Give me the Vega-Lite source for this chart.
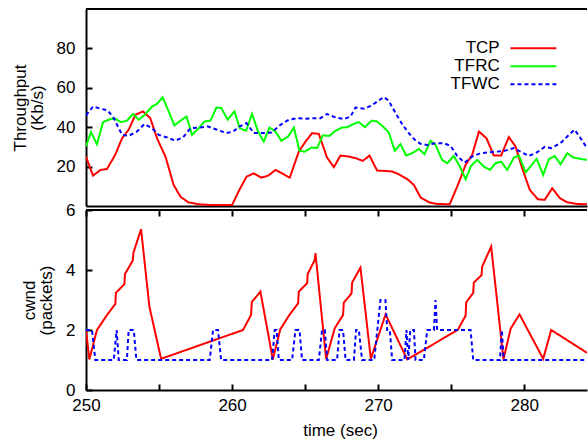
{
  "$schema": "https://vega.github.io/schema/vega-lite/v6.json",
  "padding": {"left": 11, "top": 8, "right": 0, "bottom": 4},
  "config": {
    "font": "Liberation Sans",
    "view": {"stroke": null},
    "axis": {"grid": false, "domainColor": "black", "domainWidth": 2, "tickColor": "black", "tickWidth": 2, "tickSize": -6, "labelFontSize": 17, "titleFontSize": 17, "titleFontWeight": "normal", "labelColor": "black", "titleColor": "black", "labelFont": "Liberation Sans", "titleFont": "Liberation Sans", "titleLineHeight": 17, "labelFlush": false}
  },
  "datasets": {
    "thr": [
      {"t":250.0,"v":25.1,"s":"TCP"},{"t":250.48,"v":15.4,"s":"TCP"},{"t":250.99,"v":18.3,"s":"TCP"},{"t":251.44,"v":18.8,"s":"TCP"},{"t":252.0,"v":26,"s":"TCP"},{"t":252.47,"v":34.4,"s":"TCP"},{"t":252.92,"v":38.7,"s":"TCP"},{"t":253.38,"v":46.3,"s":"TCP"},{"t":253.9,"v":48,"s":"TCP"},{"t":254.4,"v":44.6,"s":"TCP"},{"t":254.86,"v":34.4,"s":"TCP"},{"t":255.44,"v":25.1,"s":"TCP"},{"t":256.0,"v":10.7,"s":"TCP"},{"t":256.47,"v":4.7,"s":"TCP"},{"t":257.0,"v":1.9,"s":"TCP"},{"t":257.7,"v":0.9,"s":"TCP"},{"t":258.5,"v":0.5,"s":"TCP"},{"t":260.0,"v":0.5,"s":"TCP"},{"t":260.46,"v":7.6,"s":"TCP"},{"t":260.99,"v":14.9,"s":"TCP"},{"t":261.49,"v":16.6,"s":"TCP"},{"t":262.01,"v":14.4,"s":"TCP"},{"t":262.47,"v":15.4,"s":"TCP"},{"t":262.97,"v":18.3,"s":"TCP"},{"t":263.42,"v":16.6,"s":"TCP"},{"t":263.95,"v":14.4,"s":"TCP"},{"t":264.57,"v":27.6,"s":"TCP"},{"t":265.03,"v":32.7,"s":"TCP"},{"t":265.48,"v":37,"s":"TCP"},{"t":265.94,"v":36.6,"s":"TCP"},{"t":266.5,"v":24.6,"s":"TCP"},{"t":266.97,"v":19.7,"s":"TCP"},{"t":267.42,"v":25.6,"s":"TCP"},{"t":268.0,"v":25.1,"s":"TCP"},{"t":268.45,"v":24.3,"s":"TCP"},{"t":268.95,"v":22.9,"s":"TCP"},{"t":269.41,"v":25.6,"s":"TCP"},{"t":269.93,"v":18,"s":"TCP"},{"t":270.46,"v":17.8,"s":"TCP"},{"t":270.96,"v":17.5,"s":"TCP"},{"t":271.42,"v":16.1,"s":"TCP"},{"t":271.99,"v":13.7,"s":"TCP"},{"t":272.45,"v":10.7,"s":"TCP"},{"t":272.9,"v":4.4,"s":"TCP"},{"t":273.47,"v":1.9,"s":"TCP"},{"t":274.04,"v":1.0,"s":"TCP"},{"t":274.9,"v":0.9,"s":"TCP"},{"t":275.41,"v":9.8,"s":"TCP"},{"t":275.99,"v":20.9,"s":"TCP"},{"t":276.44,"v":26,"s":"TCP"},{"t":276.9,"v":37.8,"s":"TCP"},{"t":277.42,"v":34.4,"s":"TCP"},{"t":277.92,"v":25.6,"s":"TCP"},{"t":278.42,"v":25.6,"s":"TCP"},{"t":278.95,"v":35,"s":"TCP"},{"t":279.41,"v":30.2,"s":"TCP"},{"t":279.86,"v":19.2,"s":"TCP"},{"t":280.39,"v":8.1,"s":"TCP"},{"t":280.94,"v":3.4,"s":"TCP"},{"t":281.4,"v":3.1,"s":"TCP"},{"t":281.92,"v":9,"s":"TCP"},{"t":282.45,"v":3.9,"s":"TCP"},{"t":282.95,"v":1.9,"s":"TCP"},{"t":283.63,"v":1.0,"s":"TCP"},{"t":284.3,"v":0.9,"s":"TCP"},
      {"t":250.0,"v":30.2,"s":"TFRC"},{"t":250.34,"v":37.5,"s":"TFRC"},{"t":250.75,"v":31.4,"s":"TFRC"},{"t":251.17,"v":42.6,"s":"TFRC"},{"t":251.67,"v":44.1,"s":"TFRC"},{"t":252.0,"v":44.3,"s":"TFRC"},{"t":252.4,"v":42.6,"s":"TFRC"},{"t":252.8,"v":43.3,"s":"TFRC"},{"t":253.22,"v":46.7,"s":"TFRC"},{"t":253.61,"v":43.8,"s":"TFRC"},{"t":254.02,"v":46.3,"s":"TFRC"},{"t":254.52,"v":50.5,"s":"TFRC"},{"t":254.86,"v":51.9,"s":"TFRC"},{"t":255.25,"v":55.1,"s":"TFRC"},{"t":255.66,"v":48,"s":"TFRC"},{"t":256.05,"v":40.9,"s":"TFRC"},{"t":256.47,"v":43.3,"s":"TFRC"},{"t":256.88,"v":45.4,"s":"TFRC"},{"t":257.26,"v":36.1,"s":"TFRC"},{"t":257.72,"v":39.5,"s":"TFRC"},{"t":258.11,"v":42.9,"s":"TFRC"},{"t":258.52,"v":43.3,"s":"TFRC"},{"t":258.93,"v":50,"s":"TFRC"},{"t":259.27,"v":49.7,"s":"TFRC"},{"t":259.7,"v":43.8,"s":"TFRC"},{"t":260.16,"v":48,"s":"TFRC"},{"t":260.53,"v":39.5,"s":"TFRC"},{"t":260.96,"v":38.2,"s":"TFRC"},{"t":261.37,"v":46.7,"s":"TFRC"},{"t":261.78,"v":37.8,"s":"TFRC"},{"t":262.17,"v":32.7,"s":"TFRC"},{"t":262.56,"v":39.8,"s":"TFRC"},{"t":262.97,"v":37.8,"s":"TFRC"},{"t":263.38,"v":33.1,"s":"TFRC"},{"t":263.84,"v":35.3,"s":"TFRC"},{"t":264.23,"v":39.8,"s":"TFRC"},{"t":264.62,"v":28,"s":"TFRC"},{"t":264.98,"v":27.6,"s":"TFRC"},{"t":265.44,"v":29.7,"s":"TFRC"},{"t":265.82,"v":29.4,"s":"TFRC"},{"t":266.21,"v":35.8,"s":"TFRC"},{"t":266.67,"v":35.6,"s":"TFRC"},{"t":267.08,"v":38.2,"s":"TFRC"},{"t":267.53,"v":39.8,"s":"TFRC"},{"t":267.88,"v":40,"s":"TFRC"},{"t":268.34,"v":41.7,"s":"TFRC"},{"t":268.68,"v":42.6,"s":"TFRC"},{"t":269.09,"v":40,"s":"TFRC"},{"t":269.55,"v":43.3,"s":"TFRC"},{"t":269.93,"v":42.9,"s":"TFRC"},{"t":270.32,"v":40.4,"s":"TFRC"},{"t":270.73,"v":37.3,"s":"TFRC"},{"t":271.14,"v":28,"s":"TFRC"},{"t":271.53,"v":31.4,"s":"TFRC"},{"t":271.92,"v":25.6,"s":"TFRC"},{"t":272.33,"v":26.8,"s":"TFRC"},{"t":272.79,"v":29,"s":"TFRC"},{"t":273.18,"v":26.3,"s":"TFRC"},{"t":273.59,"v":33.1,"s":"TFRC"},{"t":273.93,"v":31,"s":"TFRC"},{"t":274.38,"v":23.4,"s":"TFRC"},{"t":274.73,"v":21.7,"s":"TFRC"},{"t":275.18,"v":25.4,"s":"TFRC"},{"t":275.6,"v":20,"s":"TFRC"},{"t":275.99,"v":13.6,"s":"TFRC"},{"t":276.37,"v":20.4,"s":"TFRC"},{"t":276.78,"v":23.4,"s":"TFRC"},{"t":277.24,"v":20,"s":"TFRC"},{"t":277.65,"v":18.3,"s":"TFRC"},{"t":278.04,"v":21.7,"s":"TFRC"},{"t":278.42,"v":22.5,"s":"TFRC"},{"t":278.84,"v":18.3,"s":"TFRC"},{"t":279.29,"v":24.6,"s":"TFRC"},{"t":279.64,"v":25.6,"s":"TFRC"},{"t":280.1,"v":17.1,"s":"TFRC"},{"t":280.48,"v":20.5,"s":"TFRC"},{"t":280.85,"v":23.9,"s":"TFRC"},{"t":281.3,"v":15.8,"s":"TFRC"},{"t":281.69,"v":23.8,"s":"TFRC"},{"t":282.08,"v":25.4,"s":"TFRC"},{"t":282.49,"v":21.2,"s":"TFRC"},{"t":282.95,"v":26.8,"s":"TFRC"},{"t":283.36,"v":24.6,"s":"TFRC"},{"t":283.86,"v":23.9,"s":"TFRC"},{"t":284.3,"v":23.4,"s":"TFRC"},
      {"t":250.0,"v":46,"s":"TFWC"},{"t":250.48,"v":50.5,"s":"TFWC"},{"t":250.99,"v":49.4,"s":"TFWC"},{"t":251.49,"v":48.5,"s":"TFWC"},{"t":251.9,"v":44.6,"s":"TFWC"},{"t":252.47,"v":36.1,"s":"TFWC"},{"t":252.92,"v":35.6,"s":"TFWC"},{"t":253.49,"v":37.8,"s":"TFWC"},{"t":254.0,"v":41.6,"s":"TFWC"},{"t":254.52,"v":39.5,"s":"TFWC"},{"t":254.98,"v":36.1,"s":"TFWC"},{"t":255.55,"v":34.8,"s":"TFWC"},{"t":256.12,"v":33.2,"s":"TFWC"},{"t":256.64,"v":34.8,"s":"TFWC"},{"t":257.15,"v":39.5,"s":"TFWC"},{"t":257.72,"v":39.8,"s":"TFWC"},{"t":258.34,"v":40.4,"s":"TFWC"},{"t":258.97,"v":38.7,"s":"TFWC"},{"t":259.62,"v":37,"s":"TFWC"},{"t":260.07,"v":37.8,"s":"TFWC"},{"t":260.53,"v":40.4,"s":"TFWC"},{"t":260.99,"v":42.1,"s":"TFWC"},{"t":261.49,"v":37,"s":"TFWC"},{"t":262.17,"v":37,"s":"TFWC"},{"t":262.7,"v":37.3,"s":"TFWC"},{"t":263.32,"v":41.2,"s":"TFWC"},{"t":263.88,"v":43.8,"s":"TFWC"},{"t":264.45,"v":44.6,"s":"TFWC"},{"t":265.03,"v":44.3,"s":"TFWC"},{"t":265.6,"v":44.6,"s":"TFWC"},{"t":266.05,"v":44.6,"s":"TFWC"},{"t":266.5,"v":46.7,"s":"TFWC"},{"t":267.03,"v":45.1,"s":"TFWC"},{"t":267.65,"v":44.1,"s":"TFWC"},{"t":268.11,"v":45.4,"s":"TFWC"},{"t":268.45,"v":50,"s":"TFWC"},{"t":269.02,"v":49.4,"s":"TFWC"},{"t":269.55,"v":51,"s":"TFWC"},{"t":270.0,"v":53.4,"s":"TFWC"},{"t":270.39,"v":55.3,"s":"TFWC"},{"t":270.73,"v":53.4,"s":"TFWC"},{"t":271.19,"v":47.2,"s":"TFWC"},{"t":271.64,"v":41.6,"s":"TFWC"},{"t":272.1,"v":37,"s":"TFWC"},{"t":272.51,"v":33.6,"s":"TFWC"},{"t":272.9,"v":31.6,"s":"TFWC"},{"t":273.36,"v":31,"s":"TFWC"},{"t":273.93,"v":31.9,"s":"TFWC"},{"t":274.5,"v":31.9,"s":"TFWC"},{"t":274.96,"v":30.5,"s":"TFWC"},{"t":275.41,"v":25.4,"s":"TFWC"},{"t":275.92,"v":22,"s":"TFWC"},{"t":276.44,"v":25.1,"s":"TFWC"},{"t":277.01,"v":26.8,"s":"TFWC"},{"t":277.58,"v":27.3,"s":"TFWC"},{"t":278.15,"v":27.6,"s":"TFWC"},{"t":278.66,"v":28,"s":"TFWC"},{"t":279.29,"v":29.4,"s":"TFWC"},{"t":279.75,"v":27.6,"s":"TFWC"},{"t":280.32,"v":25.4,"s":"TFWC"},{"t":280.89,"v":27.3,"s":"TFWC"},{"t":281.4,"v":30,"s":"TFWC"},{"t":281.85,"v":29.4,"s":"TFWC"},{"t":282.49,"v":31.9,"s":"TFWC"},{"t":282.95,"v":35.3,"s":"TFWC"},{"t":283.45,"v":38.7,"s":"TFWC"},{"t":283.86,"v":34.4,"s":"TFWC"},{"t":284.3,"v":29.4,"s":"TFWC"}
    ],
    "cwnd": [
      {"t":250.0,"c":2.0,"s":"TCP"},{"t":250.23,"c":1.02,"s":"TCP"},{"t":250.75,"c":2.0,"s":"TCP"},{"t":251.44,"c":2.5,"s":"TCP"},{"t":252.01,"c":2.87,"s":"TCP"},{"t":252.05,"c":3.24,"s":"TCP"},{"t":252.63,"c":3.53,"s":"TCP"},{"t":252.67,"c":3.87,"s":"TCP"},{"t":253.2,"c":4.31,"s":"TCP"},{"t":253.25,"c":4.58,"s":"TCP"},{"t":253.77,"c":5.36,"s":"TCP"},{"t":254.34,"c":2.78,"s":"TCP"},{"t":255.14,"c":1.04,"s":"TCP"},{"t":260.75,"c":2.0,"s":"TCP"},{"t":261.3,"c":2.5,"s":"TCP"},{"t":261.35,"c":2.93,"s":"TCP"},{"t":261.94,"c":3.28,"s":"TCP"},{"t":262.79,"c":1.02,"s":"TCP"},{"t":263.3,"c":2.02,"s":"TCP"},{"t":263.95,"c":2.52,"s":"TCP"},{"t":264.52,"c":2.89,"s":"TCP"},{"t":264.57,"c":3.28,"s":"TCP"},{"t":265.14,"c":3.56,"s":"TCP"},{"t":265.18,"c":3.87,"s":"TCP"},{"t":265.66,"c":4.33,"s":"TCP"},{"t":265.71,"c":4.56,"s":"TCP"},{"t":266.44,"c":1.03,"s":"TCP"},{"t":267.03,"c":2.06,"s":"TCP"},{"t":267.6,"c":2.5,"s":"TCP"},{"t":267.65,"c":2.91,"s":"TCP"},{"t":268.18,"c":3.22,"s":"TCP"},{"t":268.22,"c":3.58,"s":"TCP"},{"t":268.79,"c":4.08,"s":"TCP"},{"t":269.5,"c":1.04,"s":"TCP"},{"t":270.51,"c":2.52,"s":"TCP"},{"t":271.99,"c":1.02,"s":"TCP"},{"t":275.45,"c":2.0,"s":"TCP"},{"t":275.99,"c":2.48,"s":"TCP"},{"t":276.03,"c":2.92,"s":"TCP"},{"t":276.51,"c":3.24,"s":"TCP"},{"t":276.55,"c":3.58,"s":"TCP"},{"t":277.08,"c":3.83,"s":"TCP"},{"t":277.12,"c":4.11,"s":"TCP"},{"t":277.74,"c":4.78,"s":"TCP"},{"t":278.58,"c":1.02,"s":"TCP"},{"t":279.07,"c":2.04,"s":"TCP"},{"t":279.68,"c":2.52,"s":"TCP"},{"t":281.3,"c":1.04,"s":"TCP"},{"t":281.85,"c":2.0,"s":"TCP"},{"t":284.3,"c":1.24,"s":"TCP"},
      {"t":250.0,"c":2,"s":"TFWC"},{"t":250.41,"c":2,"s":"TFWC"},{"t":250.64,"c":1,"s":"TFWC"},{"t":251.9,"c":1,"s":"TFWC"},{"t":252.1,"c":2,"s":"TFWC"},{"t":252.24,"c":1,"s":"TFWC"},{"t":252.8,"c":1,"s":"TFWC"},{"t":252.92,"c":2,"s":"TFWC"},{"t":253.27,"c":2,"s":"TFWC"},{"t":253.45,"c":1,"s":"TFWC"},{"t":258.47,"c":1,"s":"TFWC"},{"t":258.7,"c":2,"s":"TFWC"},{"t":259.04,"c":2,"s":"TFWC"},{"t":259.25,"c":1,"s":"TFWC"},{"t":262.74,"c":1,"s":"TFWC"},{"t":262.92,"c":2,"s":"TFWC"},{"t":263.05,"c":2,"s":"TFWC"},{"t":263.2,"c":1,"s":"TFWC"},{"t":264.11,"c":1,"s":"TFWC"},{"t":264.34,"c":2,"s":"TFWC"},{"t":264.62,"c":2,"s":"TFWC"},{"t":264.79,"c":1,"s":"TFWC"},{"t":265.94,"c":1,"s":"TFWC"},{"t":266.16,"c":2,"s":"TFWC"},{"t":266.35,"c":2,"s":"TFWC"},{"t":266.51,"c":1,"s":"TFWC"},{"t":267.19,"c":1,"s":"TFWC"},{"t":267.36,"c":2,"s":"TFWC"},{"t":267.6,"c":2,"s":"TFWC"},{"t":267.77,"c":1,"s":"TFWC"},{"t":268.34,"c":1,"s":"TFWC"},{"t":268.49,"c":2,"s":"TFWC"},{"t":268.68,"c":2,"s":"TFWC"},{"t":268.9,"c":1,"s":"TFWC"},{"t":269.73,"c":1,"s":"TFWC"},{"t":270.16,"c":3,"s":"TFWC"},{"t":270.5,"c":3,"s":"TFWC"},{"t":270.62,"c":2,"s":"TFWC"},{"t":270.8,"c":2,"s":"TFWC"},{"t":270.96,"c":1,"s":"TFWC"},{"t":271.8,"c":1,"s":"TFWC"},{"t":271.94,"c":2,"s":"TFWC"},{"t":272.06,"c":1,"s":"TFWC"},{"t":272.2,"c":2,"s":"TFWC"},{"t":272.45,"c":2,"s":"TFWC"},{"t":272.56,"c":1,"s":"TFWC"},{"t":273.13,"c":1,"s":"TFWC"},{"t":273.36,"c":2,"s":"TFWC"},{"t":273.82,"c":2,"s":"TFWC"},{"t":273.93,"c":3,"s":"TFWC"},{"t":274.04,"c":2,"s":"TFWC"},{"t":276.33,"c":2,"s":"TFWC"},{"t":276.51,"c":1,"s":"TFWC"},{"t":278.34,"c":1,"s":"TFWC"},{"t":278.47,"c":2,"s":"TFWC"},{"t":278.6,"c":1,"s":"TFWC"},{"t":284.3,"c":1,"s":"TFWC"}
    ]
  },
  "spacing": 4,
  "bounds": "flush",
  "resolve": {"scale": {"color": "independent", "strokeDash": "independent"}},
  "vconcat": [
    {
      "width": 501,
      "height": 197,
      "layer": [
        {
          "data": {"name": "thr"},
          "mark": {"type": "line", "strokeWidth": 2, "clip": true},
          "encoding": {
            "x": {"field": "t", "type": "quantitative", "scale": {"domain": [250, 284.3], "nice": false, "zero": false}, "axis": {"labels": false, "ticks": false, "title": null}},
            "y": {"field": "v", "type": "quantitative", "scale": {"domain": [0, 100], "nice": false}, "axis": {"values": [20, 40, 60, 80], "title": ["Throughput", "(Kb/s)"], "labelPadding": 17, "titlePadding": 10}},
            "color": {"field": "s", "type": "nominal", "scale": {"domain": ["TCP", "TFRC", "TFWC"], "range": ["#ff0000", "#00ff00", "#0000ff"]}, "legend": {"orient": "none", "legendX": 361, "legendY": 29.8, "title": null, "symbolType": "M-2.7,0H2.7", "symbolSize": 289, "symbolStrokeWidth": 2, "symbolOffset": 76.9, "labelOffset": -43.2, "labelAlign": "right", "labelFontSize": 17, "labelFont": "Liberation Sans", "labelColor": "black", "rowPadding": 0, "padding": 0, "labelLimit": 0}},
            "strokeDash": {"field": "s", "type": "nominal", "scale": {"domain": ["TCP", "TFRC", "TFWC"], "range": [[1, 0], [1, 0], [4, 3]]}, "legend": {"orient": "none", "legendX": 361, "legendY": 29.8, "title": null, "symbolType": "M-2.7,0H2.7", "symbolSize": 289, "symbolStrokeWidth": 2, "symbolOffset": 76.9, "labelOffset": -43.2, "labelAlign": "right", "labelFontSize": 17, "labelFont": "Liberation Sans", "labelColor": "black", "rowPadding": 0, "padding": 0, "labelLimit": 0}}
          }
        },
        {
          "data": {"values": [{}]},
          "mark": {"type": "rule", "color": "black", "strokeWidth": 2},
          "encoding": {"y": {"datum": 100}}
        }
      ]
    },
    {
      "width": 501,
      "height": 180,
      "resolve": {"axis": {"x": "independent"}},
      "layer": [
        {
          "data": {"name": "cwnd"},
          "mark": {"type": "line", "strokeWidth": 2, "clip": true},
          "encoding": {
            "x": {"field": "t", "type": "quantitative", "scale": {"domain": [250, 284.3], "nice": false, "zero": false}, "axis": {"values": [250, 255, 260, 265, 270, 275, 280], "labelExpr": "datum.value % 10 == 0 ? datum.label : ''", "title": "time (sec)", "labelPadding": 13, "titlePadding": 9, "titleX": 254}},
            "y": {"field": "c", "type": "quantitative", "scale": {"domain": [0, 6], "nice": false}, "axis": {"values": [0, 2, 4, 6], "title": ["cwnd", "(packets)"], "labelPadding": 17, "titlePadding": 10}},
            "color": {"field": "s", "type": "nominal", "scale": {"domain": ["TCP", "TFRC", "TFWC"], "range": ["#ff0000", "#00ff00", "#0000ff"]}, "legend": null},
            "strokeDash": {"field": "s", "type": "nominal", "scale": {"domain": ["TCP", "TFRC", "TFWC"], "range": [[1, 0], [1, 0], [4, 3]]}, "legend": null}
          }
        },
        {
          "data": {"values": [{}]},
          "mark": {"type": "rule", "color": "black", "strokeWidth": 2},
          "encoding": {
            "x": {"datum": 250, "type": "quantitative", "axis": {"orient": "top", "labels": false, "title": null, "values": [250, 255, 260, 265, 270, 275, 280], "domain": false}},
            "x2": {"datum": 284.3},
            "y": {"datum": 6}
          }
        }
      ]
    }
  ]
}
